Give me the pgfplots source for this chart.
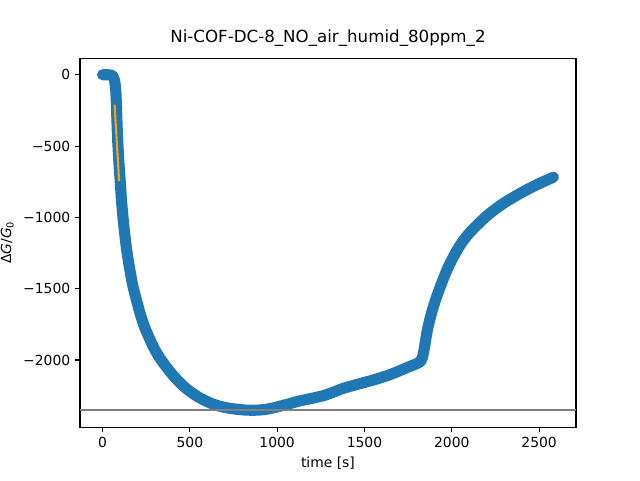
\documentclass[border=0pt]{standalone}
\usepackage{pgfplots}
\pgfplotsset{compat=1.18}
\usepackage{fontspec}
\setmainfont{DejaVu Sans}
\definecolor{c0}{HTML}{1F77B4}
\definecolor{corange}{HTML}{FFA500}
\definecolor{cgray}{HTML}{808080}
\begin{document}
\begin{tikzpicture}
\begin{axis}[
  scale only axis,
  width=357.1pt, height=265.7pt,
  xmin=-129, xmax=2711,
  ymin=-2470, ymax=117,
  axis line style={line width=0.8pt},
  tick style={line width=0.8pt, black},
  tick align=outside,
  major tick length=3.5pt,
  xtick pos=bottom, ytick pos=left,
  xtick={0,500,1000,1500,2000,2500},
  ytick={-2000,-1500,-1000,-500,0},
  yticklabels={−2000,−1500,−1000,−500,0},
  /pgf/number format/assume math mode=true,
  /pgf/number format/1000 sep={},
  ticklabel style={font=\fontsize{10}{12}\selectfont},
  title={Ni-COF-DC-8\_NO\_air\_humid\_80ppm\_2},
  title style={font=\fontsize{12}{14}\selectfont, yshift=-1pt},
  xlabel={time [s]},
  ylabel={Δ\textit{G}/\textit{G}\textsubscript{0}},
  label style={font=\fontsize{10}{12}\selectfont},
  clip=true,
]
\addplot[c0, line width=8pt, line cap=round, line join=round, smooth, tension=0.5] table {
0 0
15 0
30 0
42 -1
52 -4
60 -12
66 -28
71 -55
75 -100
78 -160
80 -230
83 -340
86 -440
90 -531
95 -640
101 -741
108 -870
117 -998
127 -1115
138 -1225
154 -1350
172 -1470
190 -1560
212 -1660
235 -1750
262 -1830
290 -1905
320 -1970
360 -2040
411 -2117
470 -2190
536 -2250
600 -2292
660 -2320
727 -2338
800 -2349
861 -2352
920 -2348
980 -2335
1052 -2312
1128 -2287
1200 -2268
1264 -2250
1320 -2226
1380 -2198
1454 -2172
1550 -2140
1645 -2103
1720 -2065
1790 -2030
1815 -2015
};
\addplot[c0, line width=8pt, line cap=round, line join=round, smooth, tension=0.5] table {
1815 -2015
1830 -1990
1845 -1900
1860 -1790
1885 -1665
1913 -1557
1950 -1435
1989 -1324
2045 -1200
2104 -1105
2200 -990
2293 -904
2391 -832
2480 -775
2582 -718
};
\addplot[corange, line width=1.5pt] table {
69 -210
95 -746
};
\addplot[cgray, line width=1.5pt] table {
-129 -2352
2711 -2352
};
\end{axis}
\pgfresetboundingbox
\useasboundingbox ([xshift=-57.6pt, yshift=-38.2pt]current axis.south west) rectangle ([xshift=46.1pt, yshift=41.8pt]current axis.north east);
\end{tikzpicture}
\end{document}
